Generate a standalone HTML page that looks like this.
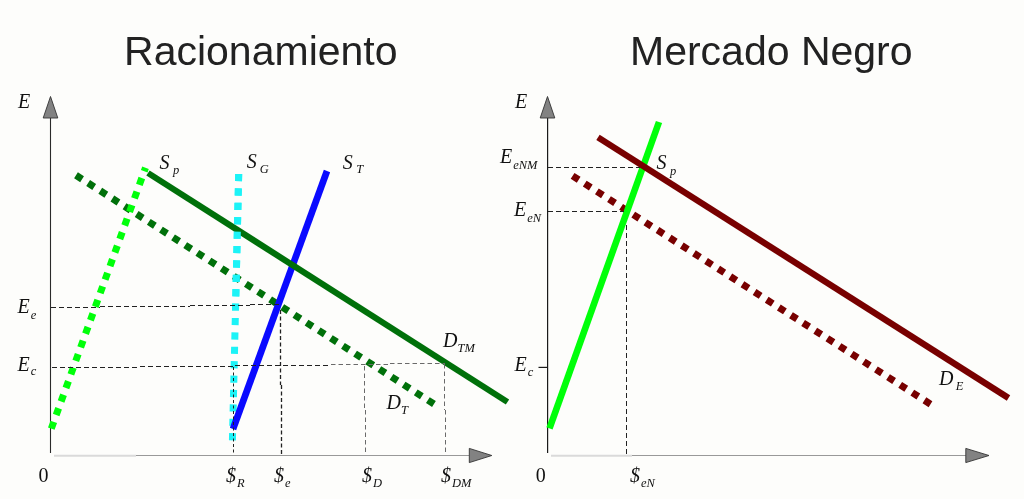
<!DOCTYPE html>
<html lang="es">
<head>
<meta charset="utf-8">
<title>Racionamiento / Mercado Negro</title>
<style>
html,body{margin:0;padding:0;background:#fdfdfb;}
body{width:1024px;height:499px;overflow:hidden;}
svg{display:block;}
.t{font-family:"Liberation Sans",Arial,sans-serif;font-size:41px;fill:#222;}
.m{font-family:"Liberation Serif","Times New Roman",serif;font-style:italic;font-size:20px;fill:#111;}
.s{font-size:12.5px;}
.n{font-family:"Liberation Serif","Times New Roman",serif;font-size:20px;fill:#111;}
</style>
</head>
<body>
<svg width="1024" height="499" viewBox="0 0 1024 499">
<rect width="1024" height="499" fill="#fdfdfb"/>

<!-- Titles -->
<text class="t" x="260.8" y="64.6" text-anchor="middle">Racionamiento</text>
<text class="t" x="771.3" y="64.6" text-anchor="middle">Mercado Negro</text>

<!-- LEFT CHART axes -->
<line x1="50.5" y1="118" x2="50.5" y2="453" stroke="#2a2a2a" stroke-width="1.1"/>
<polygon points="50.5,96.5 57.8,118 43.2,118" fill="#828282" stroke="#333" stroke-width="0.9" stroke-linejoin="miter"/>
<line x1="54" y1="455.8" x2="136" y2="455.8" stroke="#dadada" stroke-width="2"/>
<line x1="136" y1="455.5" x2="469" y2="455.5" stroke="#999" stroke-width="1.1"/>
<polygon points="491.8,455.5 469.3,448.4 469.3,462.6" fill="#828282" stroke="#333" stroke-width="0.9"/>

<!-- curves left -->
<line x1="76" y1="175.3" x2="434.5" y2="404.4" stroke="#00700a" stroke-width="7" stroke-dasharray="7.2 7.2"/>
<line x1="238.7" y1="174" x2="232.4" y2="441" stroke="#1cf3f7" stroke-width="7" stroke-dasharray="7.2 7.2"/>
<line x1="327" y1="171" x2="233" y2="429" stroke="#0a0aff" stroke-width="6.7"/>
<line x1="148" y1="173" x2="507.5" y2="402" stroke="#00700a" stroke-width="6.2"/>
<line x1="51.3" y1="428.6" x2="145.5" y2="167.8" stroke="#00ff0a" stroke-width="7" stroke-dasharray="7.2 7.2"/>

<clipPath id="ct"><rect x="220" y="160" width="40" height="150"/></clipPath>
<g clip-path="url(#ct)"><line x1="238.7" y1="174" x2="232.4" y2="441" stroke="#1cf3f7" stroke-width="7" stroke-dasharray="7.2 7.2"/></g>

<!-- dashed guides left -->
<g fill="none" stroke="#222" stroke-width="1" stroke-dasharray="5 3">
<path d="M51 307.5H100M100 306.5H190M190 305.5H250M250 304.5H280"/>
<path d="M52 367.5H140M140 366.5H235M235 365.5H331"/>
<path d="M233.5 367V455" stroke-dasharray="3 2.5"/>
<path d="M280.5 310V385M281.5 385V455" stroke-dasharray="4 2.5" stroke-width="1.3"/>
</g>
<g fill="none" stroke="#6a6a6a" stroke-width="1" stroke-dasharray="4.5 3">
<path d="M331 364.5H390M390 363.5H445"/>
<path d="M364.5 366V410M365.5 410V455"/>
<path d="M444.5 364V410M445.5 410V455"/>
</g>

<!-- labels left -->
<text class="m" x="18" y="107.5">E</text>
<text class="m" x="17.5" y="313">E<tspan class="s" dy="5.5" dx="1">e</tspan></text>
<text class="m" x="17.5" y="371">E<tspan class="s" dy="4.2" dx="1">c</tspan></text>
<text class="m" x="159.5" y="168.5">S<tspan class="s" dy="5.5" dx="3.5">p</tspan></text>
<text class="m" x="246.7" y="167.5">S<tspan class="s" dy="5.7" dx="3">G</tspan></text>
<text class="m" x="342.7" y="168.5">S<tspan class="s" dy="4.5" dx="3.5">T</tspan></text>
<text class="m" x="443" y="346.5">D<tspan class="s" dy="5.5" dx="0">TM</tspan></text>
<text class="m" x="386.5" y="408.5">D<tspan class="s" dy="5.5" dx="0">T</tspan></text>
<text class="n" x="38.5" y="481.5">0</text>
<text class="m" x="226" y="482">$<tspan class="s" dy="4.6" dx="1">R</tspan></text>
<text class="m" x="274" y="482">$<tspan class="s" dy="4.6" dx="1">e</tspan></text>
<text class="m" x="362" y="482">$<tspan class="s" dy="4.6" dx="1">D</tspan></text>
<text class="m" x="441" y="482">$<tspan class="s" dy="4.6" dx="1">DM</tspan></text>

<!-- RIGHT CHART axes -->
<line x1="547.6" y1="118" x2="547.6" y2="453" stroke="#1a1a1a" stroke-width="1.2"/>
<polygon points="547.5,96.5 554.8,118 540.2,118" fill="#828282" stroke="#333" stroke-width="0.9" stroke-linejoin="miter"/>
<line x1="551" y1="455.8" x2="632" y2="455.8" stroke="#dadada" stroke-width="2"/>
<line x1="632" y1="455.5" x2="967" y2="455.5" stroke="#999" stroke-width="1.1"/>
<polygon points="989,455.5 965.8,448.4 965.8,462.6" fill="#828282" stroke="#333" stroke-width="0.9"/>
<line x1="538.5" y1="367.4" x2="547.5" y2="367.4" stroke="#1a1a1a" stroke-width="1.2"/>

<!-- curves right -->
<line x1="572.6" y1="175.9" x2="930.5" y2="404.2" stroke="#780000" stroke-width="7" stroke-dasharray="7.2 7.19"/>
<line x1="659" y1="122" x2="549.5" y2="428.4" stroke="#00ff0a" stroke-width="6.6"/>
<line x1="598" y1="137.3" x2="1008.5" y2="398" stroke="#780000" stroke-width="6.3"/>

<!-- dashed guides right -->
<g fill="none" stroke="#222" stroke-width="1" stroke-dasharray="5 3">
<line x1="548" y1="167.5" x2="640" y2="167.5"/>
<line x1="548" y1="211.5" x2="624" y2="211.5"/>
<line x1="626.5" y1="225" x2="626.5" y2="455"/>
</g>

<!-- labels right -->
<text class="m" x="515" y="107.5">E</text>
<text class="m" x="500" y="163">E<tspan class="s" dy="5.5" dx="1">eNM</tspan></text>
<text class="m" x="514" y="216">E<tspan class="s" dy="5.5" dx="1">eN</tspan></text>
<text class="m" x="514.5" y="371">E<tspan class="s" dy="4.8" dx="1">c</tspan></text>
<text class="m" x="656.5" y="169">S<tspan class="s" dy="5.5" dx="3.5">p</tspan></text>
<text class="m" x="939" y="385">D<tspan class="s" dy="5" dx="2.2">E</tspan></text>
<text class="n" x="535.7" y="481.5">0</text>
<text class="m" x="630" y="482">$<tspan class="s" dy="4.6" dx="1">eN</tspan></text>
</svg>
</body>
</html>
